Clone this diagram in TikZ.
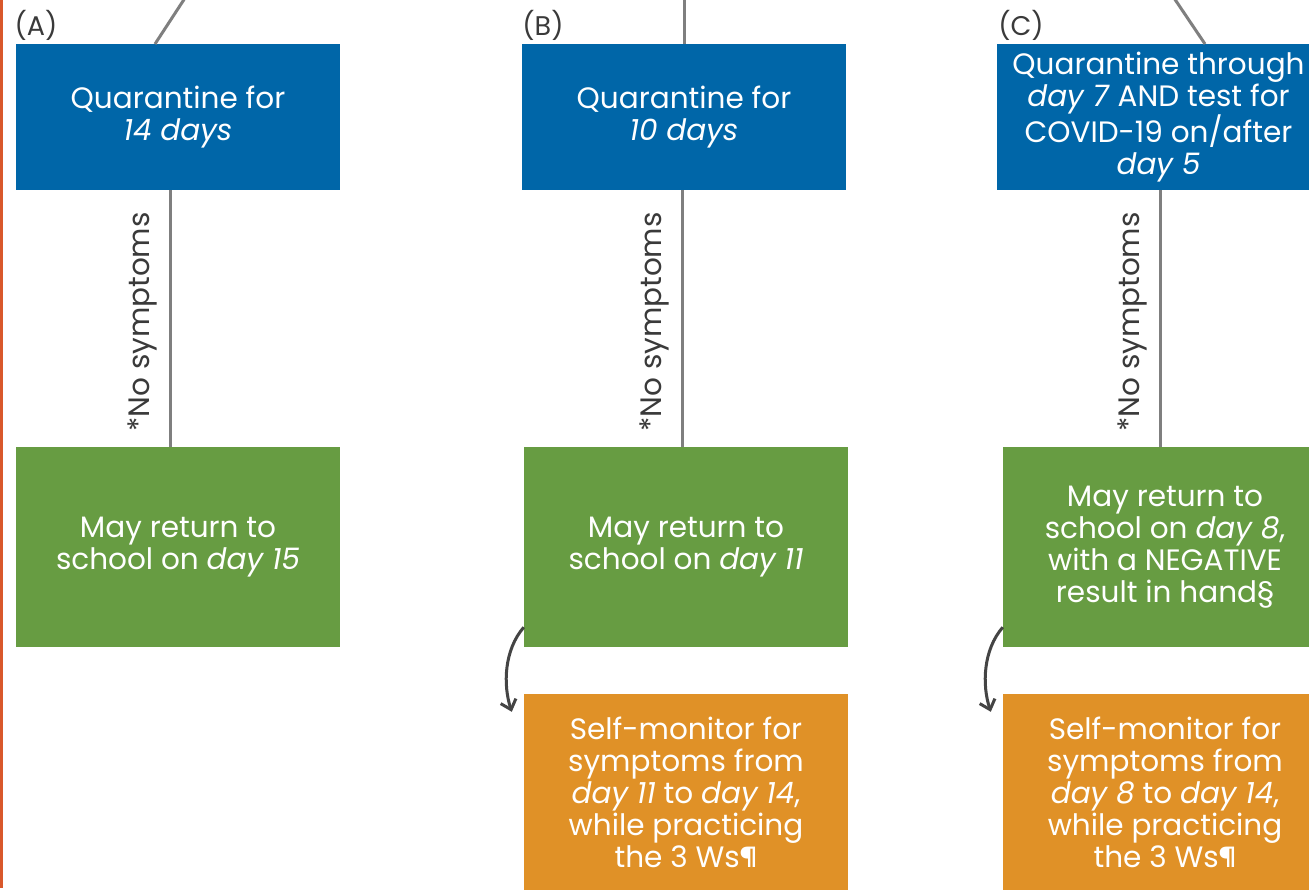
\documentclass[tikz,border=0pt]{standalone}
\usepackage{fontspec}
\setmainfont{Poppins}
\usetikzlibrary{arrows.meta,calc}
\definecolor{qblue}{HTML}{0066A8}
\definecolor{rgreen}{HTML}{679C42}
\definecolor{sorange}{HTML}{E09127}
\definecolor{edgeline}{HTML}{D9582B}
\definecolor{conn}{HTML}{7F7F7F}
\definecolor{darkarrow}{HTML}{444444}
\definecolor{labtxt}{HTML}{3A3A3A}
\tikzset{
  box/.style={draw=none,inner sep=0pt,align=center,text=white,font=\fontsize{29.5}{32}\selectfont},
  bluebox/.style={box,fill=qblue,minimum width=324pt,minimum height=146pt},
  greenbox/.style={box,fill=rgreen,minimum width=324pt,minimum height=200pt},
  orangebox/.style={box,fill=sorange,minimum width=324pt,minimum height=196pt},
  connector/.style={draw=conn,line width=3pt},
  curvearrow/.style={draw=darkarrow,line width=3pt,-{Straight Barb[length=9pt,width=16pt,line width=3pt]}},
  caselabel/.style={text=labtxt,font=\fontsize{27}{30}\selectfont,inner sep=0pt},
  sidelabel/.style={text=labtxt,font=\fontsize{29.5}{32}\selectfont,inner sep=0pt,rotate=90}
}
\begin{document}
\begin{tikzpicture}[x=1pt,y=-1pt]
\useasboundingbox (0,0) rectangle (1309,890);
\clip (0,0) rectangle (1309,890);
\fill[white] (0,0) rectangle (1309,890);
% left orange rule
\coordinate (rt) at (1.5,0);
\coordinate (rb) at (1.5,888);
\draw[edgeline,line width=3pt] (rt) -- (rb);

% boxes
\node[bluebox] (qA) at (178,117) {Quarantine for\\\textit{14 days}};
\node[bluebox] (qB) at (684,117) {Quarantine for\\\textit{10 days}};
\node[bluebox,minimum width=323pt] (qC) at (1158.5,117) {Quarantine through\\\textit{day 7} AND test for\\COVID-19 on/after\\\textit{day 5}};

\node[greenbox] (gA) at (178,547) {May return to\\school on \textit{day 15}};
\node[greenbox] (gB) at (686,547) {May return to\\school on \textit{day 11}};
\node[greenbox] (gC) at (1165,547) {May return to\\school on \textit{day 8},\\with a NEGATIVE\\result in hand\S};

\node[orangebox] (oB) at (686,792) {Self-monitor for\\symptoms from\\\textit{day 11} to \textit{day 14},\\while practicing\\the 3 Ws\P};
\node[orangebox] (oC) at (1165,792) {Self-monitor for\\symptoms from\\\textit{day 8} to \textit{day 14},\\while practicing\\the 3 Ws\P};

% case labels
\node[caselabel] (lA) at (36,25) {(A)};
\node[caselabel] (lB) at (543,25) {(B)};
\node[caselabel] (lC) at (1021,25) {(C)};

% incoming connectors from above
\coordinate (inA) at (185,-2);
\coordinate (inB) at (684,-2);
\coordinate (inC) at (1174,-2);
\draw[connector] (inA) -- (155,44);
\draw[connector] (inB) -- (qB.north);
\draw[connector] (inC) -- (1205,44);

% vertical connectors
\draw[connector] (qA.south -| 170,0) -- (gA.north -| 170,0);
\draw[connector] (qB.south -| 682,0) -- (gB.north -| 682,0);
\draw[connector] (qC.south -| 1160,0) -- (gC.north -| 1160,0);

\node[sidelabel] (sA) at (143,322) {*No symptoms};
\node[sidelabel] (sB) at (654,322) {*No symptoms};
\node[sidelabel] (sC) at (1132,322) {*No symptoms};

% curved arrows
\coordinate (aB1) at ($(gB.south west)+(0,-20)$);
\coordinate (aB2) at ($(oB.north west)+(-12,18)$);
\draw[curvearrow] (aB1) .. controls (504,650) and (503,685) .. (aB2);
\coordinate (aC1) at ($(gC.south west)+(0,-20)$);
\coordinate (aC2) at ($(oC.north west)+(-12,18)$);
\draw[curvearrow] (aC1) .. controls (983,650) and (982,685) .. (aC2);
\end{tikzpicture}
\end{document}
